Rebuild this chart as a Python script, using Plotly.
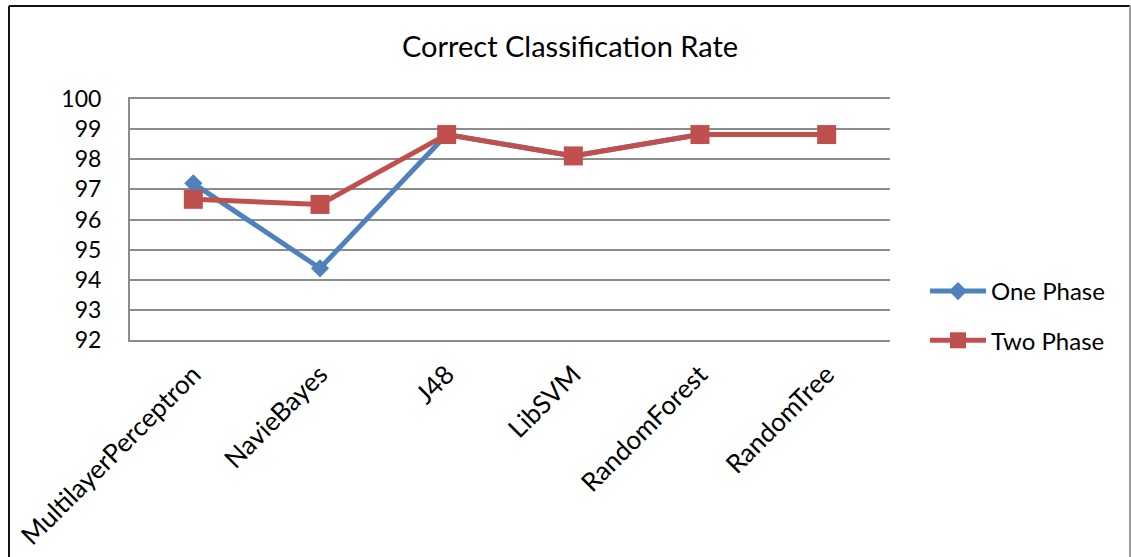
import plotly.graph_objects as go

# Classifier names on the category axis
classifiers = ["MultilayerPerceptron", "NavieBayes", "J48", "LibSVM", "RandomForest", "RandomTree"]

# Correct classification rate (%) per classifier
one_phase = [97.2, 94.38, 98.82, 98.11, 98.82, 98.82]
two_phase = [96.67, 96.5, 98.82, 98.11, 98.82, 98.82]

y_ticks = [92, 93, 94, 95, 96, 97, 98, 99, 100]

FONT = "Lato, Carlito, Calibri, sans-serif"
BLUE = "#4F81BD"
RED = "#C0504D"
GRID = "#8C8C8C"

fig = go.Figure()
fig.add_trace(go.Scatter(
    x=classifiers, y=one_phase, name="One Phase", mode="lines+markers",
    legendgroup="a",
    line=dict(color=BLUE, width=5),
    marker=dict(symbol="diamond", size=14, color=BLUE),
))
fig.add_trace(go.Scatter(
    x=classifiers, y=two_phase, name="Two Phase", mode="lines+markers",
    legendgroup="b",
    line=dict(color=RED, width=5),
    marker=dict(symbol="square", size=19, color=RED),
))

W, H = 1131, 557
L, R, T, B = 130, 241, 99, 217
pw, ph = W - L - R, H - T - B


def px_x(px):
    return (px - L) / pw


def px_y(py):
    return (H - B - py) / ph


# Outer chart frame
fig.add_shape(type="line", xref="paper", yref="paper",
              x0=px_x(9), x1=px_x(9), y0=px_y(6), y1=px_y(565),
              line=dict(color="#111111", width=2))
fig.add_shape(type="line", xref="paper", yref="paper",
              x0=px_x(9), x1=px_x(1130), y0=px_y(6), y1=px_y(6),
              line=dict(color="#111111", width=2))
fig.add_shape(type="line", xref="paper", yref="paper",
              x0=px_x(1130), x1=px_x(1130), y0=px_y(6), y1=px_y(565),
              line=dict(color="#9a9a9a", width=2))

fig.update_layout(
    width=W, height=H,
    margin=dict(l=L, r=R, t=T, b=B),
    paper_bgcolor="white", plot_bgcolor="white",
    font=dict(family=FONT, color="#000000", size=22),
    title=dict(text="Correct Classification Rate", xref="container", yref="container",
               x=0.504, y=1 - 47 / H, xanchor="center", yanchor="middle",
               font=dict(family=FONT, size=29, color="#000000")),
    showlegend=True,
    legend=dict(x=px_x(925), y=px_y(316), xanchor="left", yanchor="middle",
                xref="paper", yref="paper",
                font=dict(family=FONT, size=24, color="#000000"),
                itemwidth=56, tracegroupgap=15, bgcolor="rgba(0,0,0,0)"),
)
fig.update_xaxes(
    type="category", tickangle=-45, showgrid=False, ticks="",
    showline=True, linecolor=GRID, linewidth=2, mirror=True, zeroline=False,
    ticklabelstandoff=7, automargin=False,
    tickfont=dict(family=FONT, size=26, color="#000000"),
    range=[-0.5, len(classifiers) - 0.5],
)
fig.update_yaxes(
    range=[92, 100], tickvals=y_ticks, ticktext=[str(v) for v in y_ticks],
    showgrid=True, gridcolor=GRID, gridwidth=2,
    showline=True, linecolor=GRID, linewidth=2,
    zeroline=False, ticks="", ticklabelstandoff=22, automargin=False,
    tickfont=dict(family=FONT, size=23, color="#000000"),
)

fig.write_html("out.html")
